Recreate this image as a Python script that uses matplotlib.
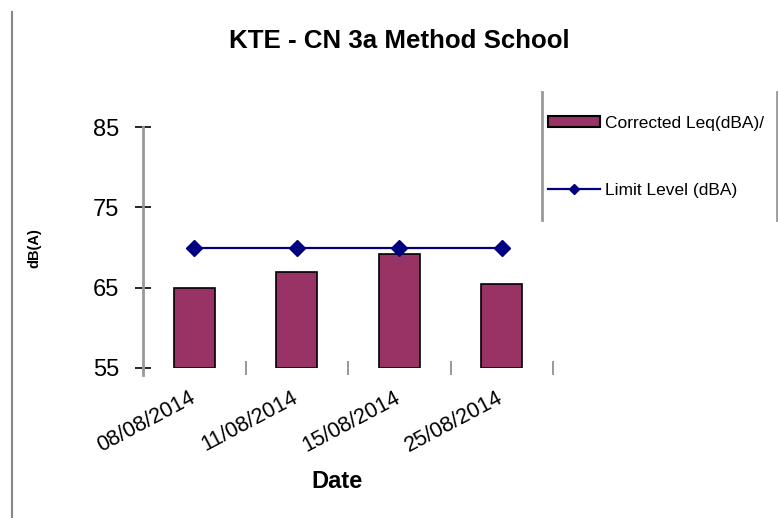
import matplotlib
matplotlib.use("Agg")
import matplotlib.pyplot as plt
from matplotlib.lines import Line2D
from matplotlib.patches import Patch
from matplotlib.transforms import ScaledTranslation

dates = ["08/08/2014", "11/08/2014", "15/08/2014", "25/08/2014"]
corrected_leq = [65.0, 67.0, 69.2, 65.5]
limit_level = [70, 70, 70, 70]
y_ticks = [55, 65, 75, 85]

plt.rcParams['font.family'] = ['Liberation Sans', 'DejaVu Sans']

W, H = 778, 518
fig = plt.figure(figsize=(W / 100, H / 100), dpi=100)
ax = fig.add_axes([143 / W, 1 - 368 / H, (553 - 143) / W, (368 - 127) / H])

x = list(range(len(dates)))
ax.bar(x, [v - 55 for v in corrected_leq], bottom=55, width=0.4,
       color='#993366', edgecolor='black', linewidth=1.2, zorder=2)
ax.plot(x, limit_level, color='#000080', linewidth=1.6, marker='D',
        markersize=8, zorder=3)

ax.set_xlim(-0.5, 3.5)
ax.set_ylim(55, 85)
ax.set_yticks(y_ticks)
ax.tick_params(axis='y', direction='inout', length=12, width=1.2,
               color='black', labelsize=17, pad=11)
ax.set_xticks(x)
ax.set_xticklabels(dates, rotation=28, ha='right', fontsize=15.5)
ax.tick_params(axis='x', length=0, pad=14)
offset = ScaledTranslation(5 / 100, 0, fig.dpi_scale_trans)
for lab in ax.get_xticklabels():
    lab.set_transform(lab.get_transform() + offset)
ax.set_xticks([0.5, 1.5, 2.5, 3.5], minor=True)
ax.tick_params(axis='x', which='minor', direction='inout', length=9.5,
               width=1.2, color='#888888')

for s in ['top', 'right', 'bottom']:
    ax.spines[s].set_visible(False)
ax.spines['left'].set_color('#999999')
ax.spines['left'].set_linewidth(2)
ax.plot([0, 0], [0, -0.03], transform=ax.transAxes, color='#999999',
        linewidth=2, clip_on=False)

fig.text(34 / W, 1 - 248 / H, 'dB(A)', rotation=90, ha='center', va='center',
         fontsize=10.5, fontweight='bold')
fig.text(337 / W, 1 - 481 / H, 'Date', ha='center', va='center',
         fontsize=17, fontweight='bold')

fig.text(399 / W, 1 - 41 / H, 'KTE - CN 3a Method School', ha='center',
         va='center', fontsize=18.6, fontweight='bold')

# frame line at the left edge
fig.add_artist(Line2D([12 / W, 12 / W], [0, 1 - 12 / H], transform=fig.transFigure,
                      color='#888888', linewidth=1.5))

# legend with vertical side lines
fig.add_artist(Line2D([542 / W, 542 / W], [1 - 92 / H, 1 - 220 / H],
                      transform=fig.transFigure, color='#999999', linewidth=2))
fig.add_artist(Line2D([777 / W, 777 / W], [1 - 92 / H, 1 - 220 / H],
                      transform=fig.transFigure, color='#999999', linewidth=2))
handles = [Patch(facecolor='#993366', edgecolor='black', linewidth=1.5),
           Line2D([], [], color='#000080', linewidth=1.6, marker='D', markersize=5)]
labels = ['Corrected Leq(dBA)/', 'Limit Level (dBA)']
fig.legend(handles, labels, loc='upper left', bbox_to_anchor=(548 / W, 1 - 116 / H),
           frameon=False, fontsize=12.5, handlelength=3.0, handleheight=0.6,
           handletextpad=0.3, labelspacing=3.0, borderaxespad=0, borderpad=0)

fig.savefig('out.png', dpi=100)
